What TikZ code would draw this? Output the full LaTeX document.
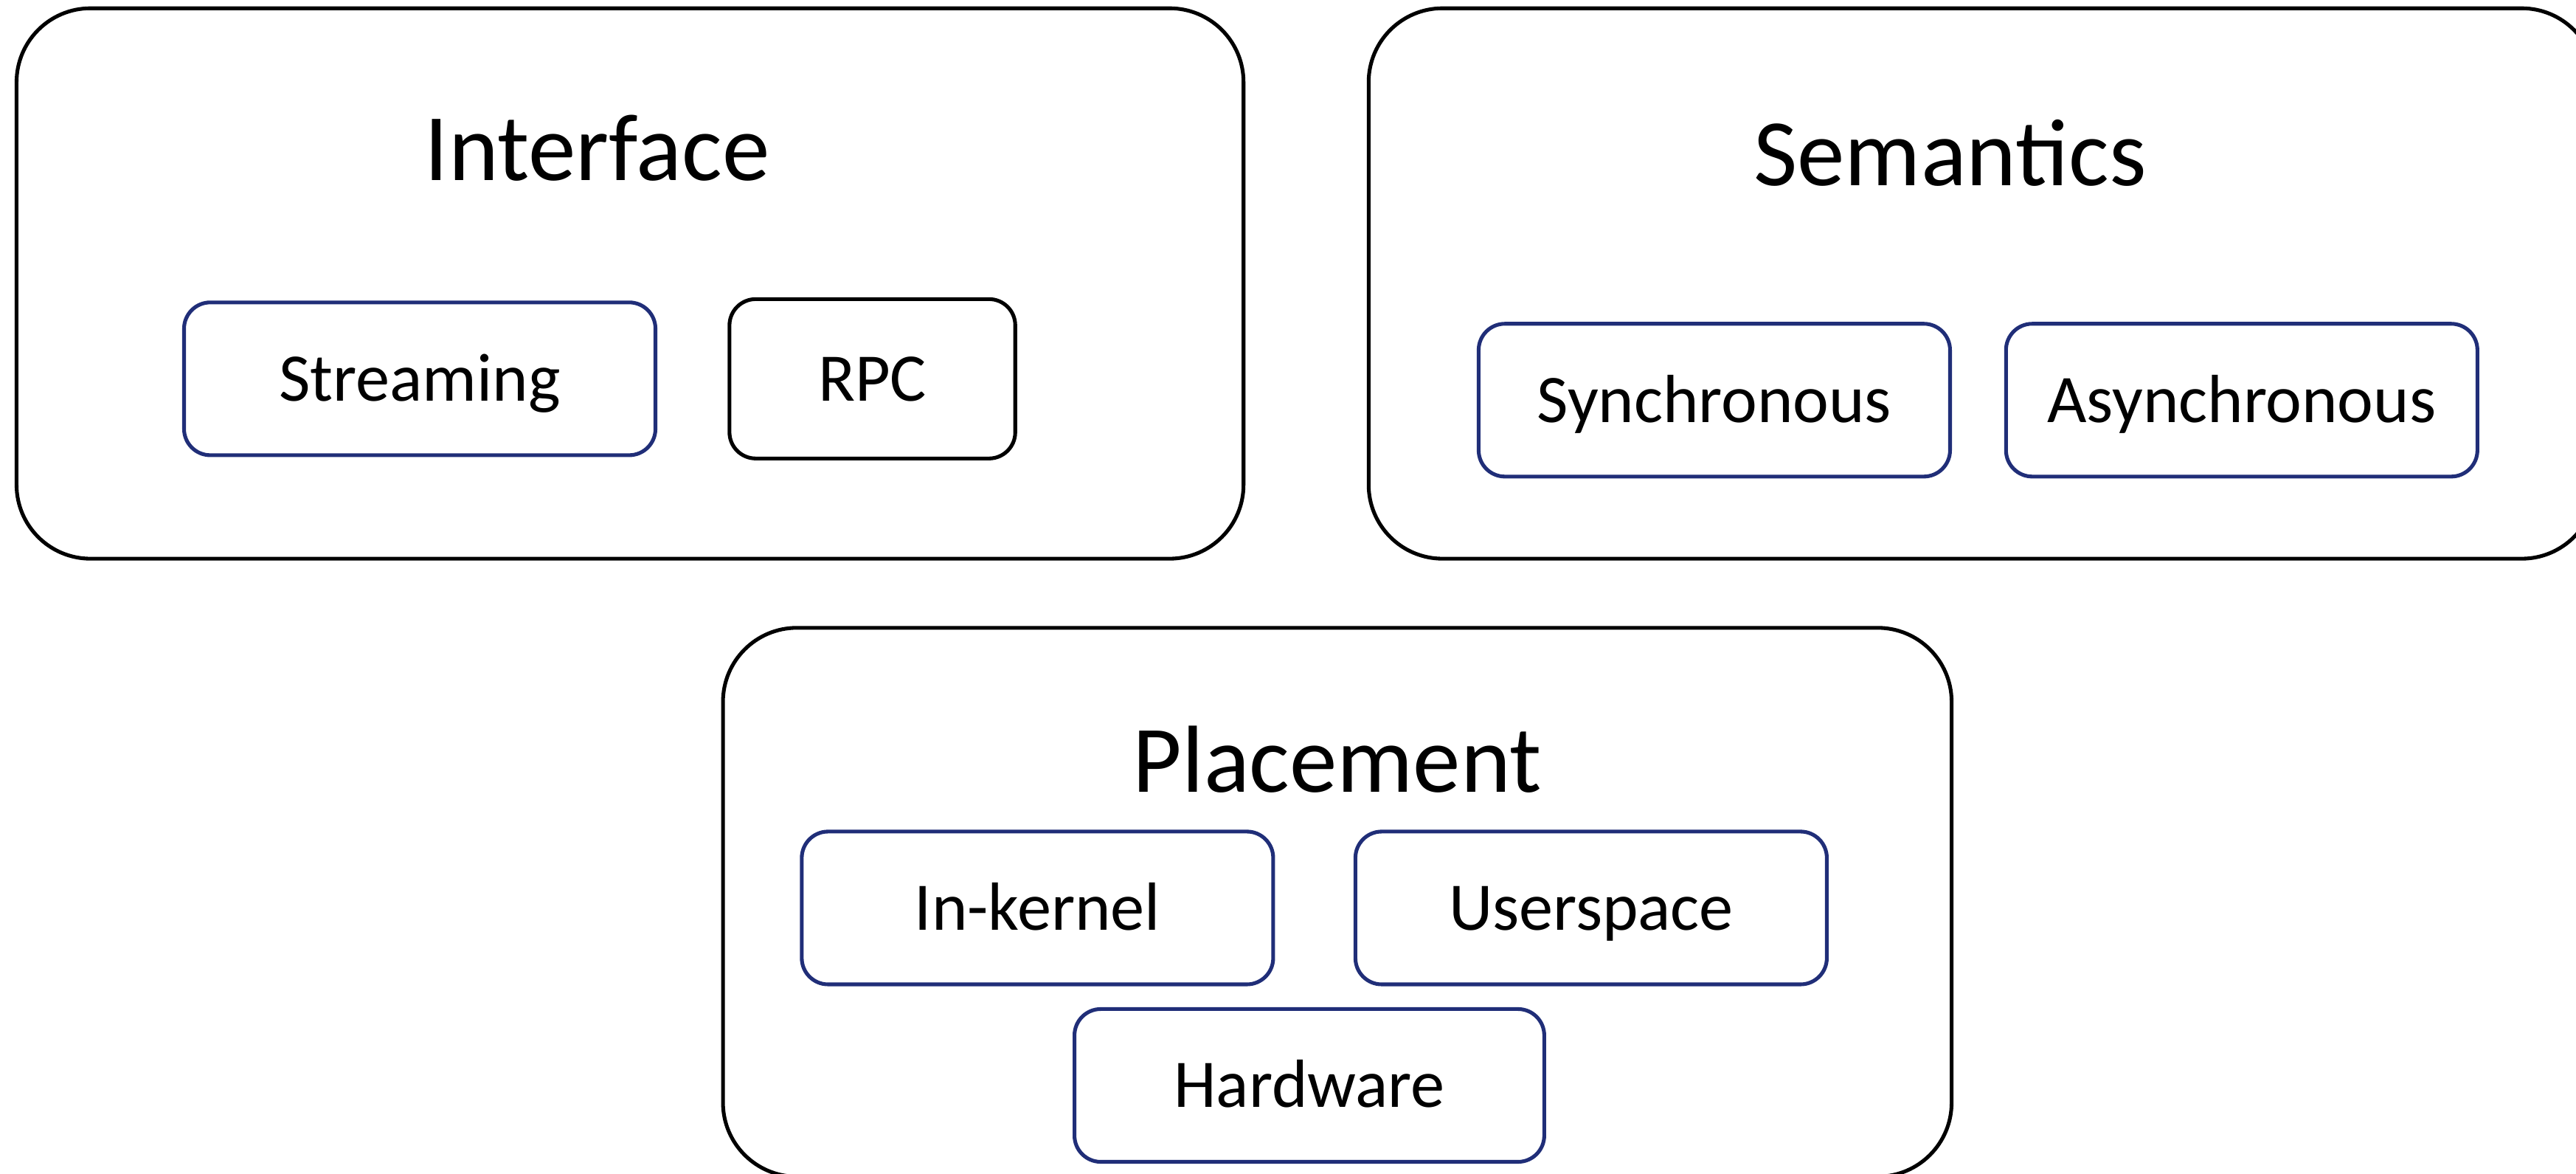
\documentclass[tikz,border=0pt]{standalone}
\usepackage{fontspec}
\setmainfont{Carlito}
\definecolor{navy}{RGB}{32,46,120}
\begin{document}
\begin{tikzpicture}[x=0.02cm,y=-0.02cm,
  bigbox/.style={draw=black,line width=1.3pt,rounded corners=0.9cm,inner sep=0pt},
  subbox/.style={draw=navy,line width=1.3pt,rounded corners=0.32cm,inner sep=0pt,
    minimum width=5.74cm,minimum height=1.86cm,
    font=\fontsize{23.6}{28}\selectfont,text height=15.2pt,text depth=0pt},
  title/.style={anchor=base,inner sep=0pt,font=\fontsize{33}{40}\selectfont}]
\useasboundingbox (0,0) rectangle (1568,714);
% big boxes
\node[bigbox,minimum width=14.94cm,minimum height=6.7cm] (iface) at (383.5,172.5) {};
\node[bigbox,minimum width=14.94cm,minimum height=6.7cm] (sem) at (1206.5,172.5) {};
\node[bigbox,minimum width=14.96cm,minimum height=6.68cm] (place) at (814,549) {};
% titles
\node[title] (ifacet) at (363.5,110) {Interface};
\node[title] (semt) at (1187,113) {Semantics};
\node[title] (placet) at (814,482) {Placement};
% sub boxes
\node[subbox] (stream) at (255.5,230.5) {Streaming};
\node[subbox,draw=black,minimum width=3.48cm,minimum height=1.94cm] (rpc) at (531,230.5) {RPC};
\node[subbox] (sync) at (1043.5,243.5) {Synchronous};
\node[subbox] (async) at (1364.5,243.5) {Asynchronous};
\node[subbox] (kern) at (631.5,552.5) {In-kernel};
\node[subbox] (user) at (968.5,552.5) {Userspace};
\node[subbox,minimum width=5.72cm] (hw) at (797,660.5) {Hardware};
\end{tikzpicture}
\end{document}
